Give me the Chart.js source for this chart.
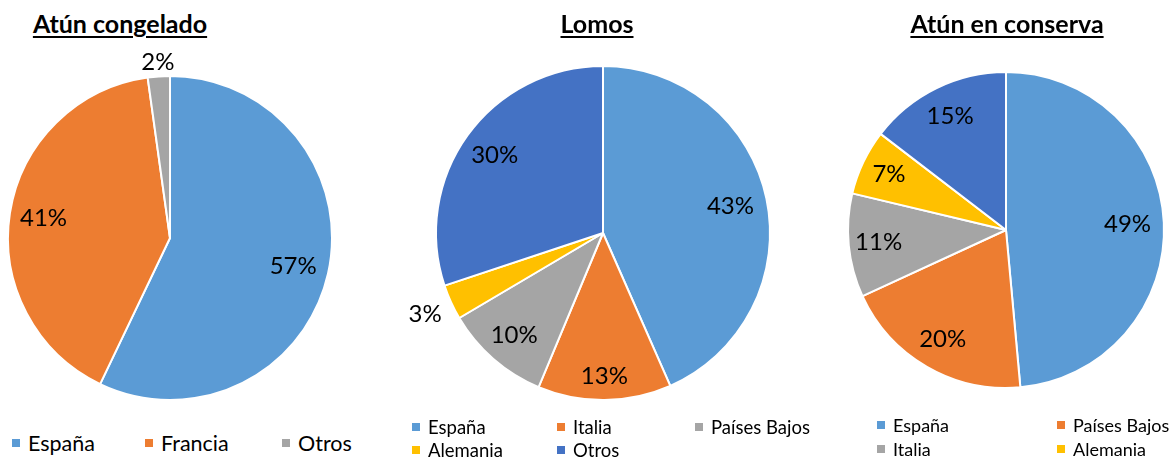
<!DOCTYPE html>
<html>
<head>
<meta charset="utf-8">
<script src="https://cdn.jsdelivr.net/npm/chart.js@4.4.0/dist/chart.umd.min.js"></script>
<style>
  html, body { margin:0; padding:0; background:#fff; width:1172px; height:457px; overflow:hidden; position:relative; font-family: Lato, "Open Sans", sans-serif; color:#000; }
  .title { position:absolute; font-weight:bold; text-decoration:underline; text-decoration-thickness:2px; text-underline-offset:3px; font-size:25px; line-height:30px; transform:translateX(-50%); white-space:nowrap; top:8px; }
  canvas { position:absolute; }
  .legend { position:absolute; display:grid; }
  .item { display:flex; align-items:center; white-space:nowrap; }
  .sw { display:inline-block; width:8px; height:8px; margin-right:8px; flex:none; }
</style>
</head>
<body>
<script>
// ---- data ----
const congeladoLabels = ["España", "Francia", "Otros"];
const congeladoValues = [57.1, 40.7, 2.2];

const lomosLabels = ["España", "Italia", "Países Bajos", "Alemania", "Otros"];
const lomosValues = [43.4, 12.9, 10.2, 3.4, 30.1];

const conservaLabels = ["España", "Países Bajos", "Italia", "Alemania", "Otros"];
const conservaValues = [48.6, 19.6, 10.6, 6.7, 14.6];

const titles = ["Atún congelado", "Lomos", "Atún en conserva"];

// ---- styles ----
const congeladoColors = ["#5B9BD5", "#ED7D31", "#A5A5A5"];
const lomosColors = ["#5B9BD5", "#ED7D31", "#A5A5A5", "#FFC000", "#4472C4"];
const conservaColors = ["#5B9BD5", "#ED7D31", "#A5A5A5", "#FFC000", "#4472C4"];

const labelPlugin = {
  id: 'pctLabels',
  afterDatasetsDraw(chart, args, opts) {
    const ctx = chart.ctx;
    const ds = chart.data.datasets[0];
    const total = ds.data.reduce((a, b) => a + b, 0);
    const meta = chart.getDatasetMeta(0);
    ctx.save();
    ctx.font = opts.font;
    ctx.fillStyle = '#000';
    ctx.textAlign = 'center';
    ctx.textBaseline = 'middle';
    meta.data.forEach((arc, i) => {
      const p = arc.getProps(['x', 'y', 'startAngle', 'endAngle', 'outerRadius'], true);
      const mid = (p.startAngle + p.endAngle) / 2;
      const f = opts.factors[i];
      const x = p.x + Math.cos(mid) * p.outerRadius * f;
      const y = p.y + Math.sin(mid) * p.outerRadius * f;
      const pct = Math.round(ds.data[i] / total * 100);
      ctx.fillText(pct + '%', x, y);
    });
    ctx.restore();
  }
};

function makePie(cfg) {
  const c = document.createElement('canvas');
  c.width = cfg.size; c.height = cfg.size;
  c.style.left = (cfg.cx - cfg.size / 2) + 'px';
  c.style.top = (cfg.cy - cfg.size / 2) + 'px';
  c.style.width = cfg.size + 'px'; c.style.height = cfg.size + 'px';
  document.body.appendChild(c);
  new Chart(c, {
    type: 'pie',
    data: { labels: cfg.labels, datasets: [{ data: cfg.values, backgroundColor: cfg.colors, borderColor: '#fff', borderWidth: 2 }] },
    options: {
      responsive: false, animation: false, radius: cfg.r,
      layout: { padding: 0 },
      plugins: { legend: { display: false }, tooltip: { enabled: false },
        pctLabels: { font: cfg.labelFont, factors: cfg.factors } }
    },
    plugins: [labelPlugin]
  });

  const t = document.createElement('div');
  t.className = 'title'; t.textContent = cfg.title;
  t.style.left = cfg.titleX + 'px';
  document.body.appendChild(t);

  const lg = document.createElement('div');
  lg.className = 'legend';
  lg.style.left = cfg.legend.x + 'px';
  lg.style.top = cfg.legend.y + 'px';
  lg.style.gridTemplateColumns = cfg.legend.cols.map(w => w + 'px').join(' ');
  lg.style.gridAutoRows = cfg.legend.rowH + 'px';
  lg.style.fontSize = cfg.legend.fontSize + 'px';
  cfg.labels.forEach((l, i) => {
    const it = document.createElement('div'); it.className = 'item';
    const sw = document.createElement('span'); sw.className = 'sw'; sw.style.background = cfg.colors[i];
    it.appendChild(sw); it.appendChild(document.createTextNode(l));
    lg.appendChild(it);
  });
  document.body.appendChild(lg);
}

makePie({ title: titles[0], titleX: 120, labels: congeladoLabels, values: congeladoValues, colors: congeladoColors,
  cx: 170, cy: 238, r: 162, size: 380, labelFont: '24px Lato', factors: [0.78, 0.79, 1.09],
  legend: { x: 12, y: 429, cols: [133, 137, 120], rowH: 28, fontSize: 21.5 } });

makePie({ title: titles[1], titleX: 597, labels: lomosLabels, values: lomosValues, colors: lomosColors,
  cx: 603, cy: 233, r: 167, size: 420, labelFont: '24px Lato', factors: [0.78, 0.86, 0.81, 1.17, 0.80],
  legend: { x: 412, y: 415, cols: [145, 138, 140], rowH: 23, fontSize: 18.5 } });

makePie({ title: titles[2], titleX: 1007, labels: conservaLabels, values: conservaValues, colors: conservaColors,
  cx: 1006, cy: 230, r: 158, size: 380, labelFont: '24px Lato', factors: [0.77, 0.80, 0.81, 0.82, 0.80],
  legend: { x: 877, y: 413, cols: [180, 120], rowH: 24, fontSize: 18 } });
</script>
</body>
</html>
